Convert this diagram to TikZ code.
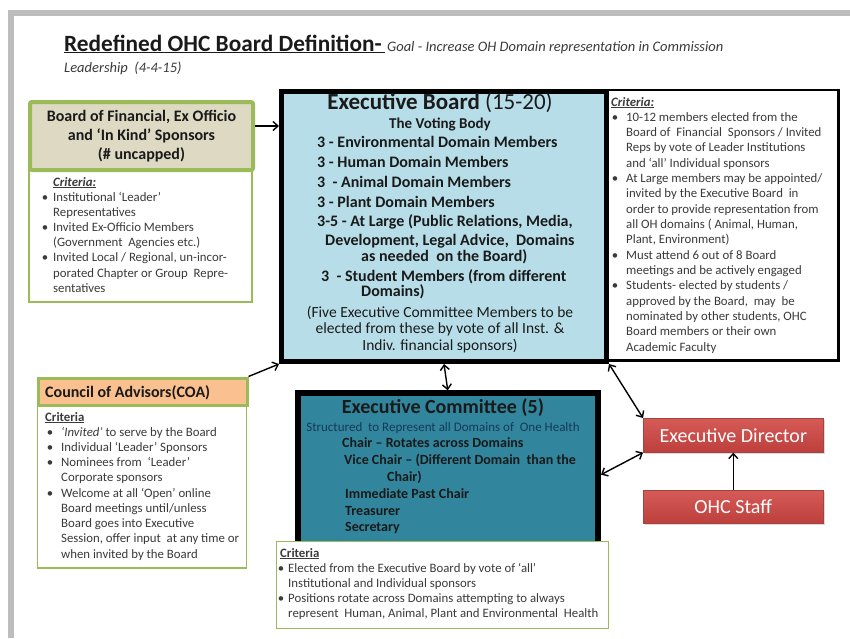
\documentclass[tikz,border=0pt]{standalone}
\usepackage{fontspec}
\setmainfont{Carlito}
\usetikzlibrary{positioning,arrows.meta,shadows}

\definecolor{leafgreen}{HTML}{9BBB59}
\definecolor{tanfill}{HTML}{DDD9C3}
\definecolor{peach}{HTML}{FAC090}
\definecolor{skyfill}{HTML}{B7DEE8}
\definecolor{tealfill}{HTML}{31859C}
\definecolor{redtop}{HTML}{D65B57}
\definecolor{redbot}{HTML}{BC3F3C}
\definecolor{dirred}{HTML}{C0504D}
\definecolor{crittext}{HTML}{3A3A3A}
\definecolor{inkblack}{HTML}{1A1A1A}
\definecolor{navytext}{HTML}{163A55}
\definecolor{framegray}{HTML}{BDBDBD}

\begin{document}
\begin{tikzpicture}[x=1pt,y=-1pt,
    every node/.style={inner sep=0pt},
    crit/.style={anchor=base west,text=crittext,font=\fontsize{12.8}{15}\selectfont},
    bul/.style={anchor=base,text=crittext,font=\fontsize{12.8}{15}\selectfont},
    crithead/.style={anchor=base west,text=crittext,font=\bfseries\fontsize{12.8}{15}\selectfont},
    greenbox/.style={draw=leafgreen,line width=1.5pt,fill=white,anchor=north west},
    ebline/.style={anchor=base west,text=inkblack,font=\bfseries\fontsize{16}{19}\selectfont},
    ebnote/.style={anchor=base,text=inkblack,font=\fontsize{15.5}{18}\selectfont},
    ecline/.style={anchor=base west,text=inkblack,font=\bfseries\fontsize{14}{17}\selectfont},
    redbox/.style={draw=dirred!85!black,line width=0.6pt,top color=redtop,bottom color=redbot,
      text=white,font=\fontsize{20}{24}\selectfont,anchor=north west,
      minimum width=180pt,minimum height=34pt,
      drop shadow={opacity=0.3,shadow xshift=1.5pt,shadow yshift=-2pt}},
    arr/.style={-{Straight Barb[length=5pt,width=9pt]},line width=1.4pt},
    darr/.style={{Straight Barb[length=5pt,width=9pt]}-{Straight Barb[length=5pt,width=9pt]},line width=1.4pt}
  ]
  \path[use as bounding box] (0,0) rectangle (850,638);
  % page frame
  \fill[framegray] (8,10) rectangle (850,16);
  \fill[framegray] (8,10) rectangle (14,638);

  % Title.
  \node[anchor=base west,text=inkblack,font=\bfseries\fontsize{23.3}{27}\selectfont] (title) at (64,51)
    {\underline{Redefined OHC Board Definition-\hspace{3pt}}};
  \node[anchor=base west,text=crittext,font=\itshape\fontsize{14.5}{17}\selectfont] (goal) at (title.base east)
    {\hspace{2pt}Goal - Increase OH Domain representation in Commission};
  \node[anchor=base west,text=crittext,font=\itshape\fontsize{14.5}{17}\selectfont] (lead) at (64,72)
    {Leadership \ (4-4-15)};

  % Sponsors.
  \node[greenbox,minimum width=223pt,minimum height=133pt] (sponscrit) at (28,168) {};
  \node[greenbox,line width=4pt,fill=tanfill,rounded corners=2pt,minimum width=223pt,minimum height=68pt,
    align=center,text=inkblack,font=\bfseries\fontsize{16}{19}\selectfont] (spons) at (28,100)
    {Board of Financial, Ex Officio\\and ‘In Kind’ Sponsors\\(\# uncapped)};
  \node[crithead] (sc0) at (53,186) {\underline{\textit{Criteria:}}};
  \foreach \t [count=\i] in {{Institutional ‘Leader’},{Representatives},{Invited Ex-Officio Members},
      {(Government \ Agencies etc.)},{Invited Local / Regional, un-incor-},
      {porated Chapter or Group \ Repre-},{sentatives}}
    \node[crit] (sc\i) at (53,{201+15.2*(\i-1)}) {\t};
  \foreach \i in {1,3,5}
    \node[bul] (scb\i) at (45,{201+15.2*(\i-1)}) {\textbullet};

  % Council of advisors.
  \node[greenbox,minimum width=209pt,minimum height=163.5pt] (coacrit) at (36.5,403.5) {};
  \node[greenbox,line width=3pt,fill=peach,minimum width=209pt,minimum height=27pt] (coa) at (36.5,376.5) {};
  \node[anchor=base west,text=inkblack,font=\bfseries\fontsize{16}{19}\selectfont] (coatext) at (45,397)
    {Council of Advisors(COA)};
  \node[crithead] (cc0) at (45,421) {\underline{Criteria}};
  \foreach \t [count=\i] in {{\textit{‘Invited’} to serve by the Board},{Individual ‘Leader’ Sponsors},
      {Nominees from \ ‘Leader’},{Corporate sponsors},{Welcome at all ‘Open’ online},
      {Board meetings until/unless},{Board goes into Executive},
      {Session, offer input \ at any time or},{when invited by the Board}}
    \node[crit] (cc\i) at (61,{436+15.25*(\i-1)}) {\t};
  \foreach \i in {1,2,3,5}
    \node[bul] (ccb\i) at (50,{436+15.25*(\i-1)}) {\textbullet};

  % Executive board.
  \node[draw=black,line width=2.5pt,fill=white,anchor=north west,minimum width=233pt,minimum height=270.5pt]
    (ebcrit) at (604,88.5) {};
  \node[draw=black,line width=5pt,fill=skyfill,anchor=north west,minimum width=325pt,minimum height=270.5pt]
    (eb) at (279,88.5) {};
  \node[anchor=base,text=inkblack,font=\fontsize{23}{27}\selectfont] (ebtitle) at (440,109)
    {\textbf{Executive Board} (15-20)};
  \node[anchor=base,text=inkblack,font=\bfseries\fontsize{15}{18}\selectfont] (ebsub) at (440,128)
    {The Voting Body};
  \foreach \x/\y/\t [count=\i] in {317/147/{3 - Environmental Domain Members},
      317/167/{3 - Human Domain Members},317/187/{3 \ - Animal Domain Members},
      317/207/{3 - Plant Domain Members},317/226/{3-5 - At Large (Public Relations, Media,},
      325/245/{Development, Legal Advice, \ Domains},361/261/{as needed \ on the Board)},
      321/281/{3 \ - Student Members (from different},361/296/{Domains)}}
    \node[ebline] (ebl\i) at (\x,\y) {\t};
  \node[ebnote] (ebn1) at (440,317) {(Five Executive Committee Members to be};
  \node[ebnote] (ebn2) at (440,333) {elected from these by vote of all Inst. \&};
  \node[ebnote] (ebn3) at (440,350) {Indiv. financial sponsors)};

  \node[crithead] (ebc0) at (611,106) {\underline{\textit{Criteria:}}};
  \foreach \t [count=\i] in {{10-12 members elected from the},{Board of \ Financial \ Sponsors / Invited},
      {Reps by vote of Leader Institutions},{and ‘all’ Individual sponsors},
      {At Large members may be appointed/},{invited by the Executive Board \ in},
      {order to provide representation from},{all OH domains ( Animal, Human,},
      {Plant, Environment)},{Must attend 6 out of 8 Board},{meetings and be actively engaged},
      {Students- elected by students /},{approved by the Board, \ may \ be},
      {nominated by other students, OHC},{Board members or their own},{Academic Faculty}}
    \node[crit] (ebc\i) at (626,{121+15.35*(\i-1)}) {\t};
  \foreach \i in {1,5,10,12}
    \node[bul] (ebcb\i) at (615,{121+15.35*(\i-1)}) {\textbullet};

  % Executive committee.
  \node[draw=black,line width=6pt,fill=tealfill,anchor=north west,minimum width=300.5pt,minimum height=154.7pt]
    (ec) at (294.5,390.3) {};
  \node[anchor=base,text=inkblack,font=\bfseries\fontsize{20}{24}\selectfont] (ectitle) at (443,413.5)
    {Executive Committee (5)};
  \node[anchor=base,text=navytext,font=\fontsize{13}{16}\selectfont] (ecsub) at (443,431)
    {Structured \ to Represent all Domains of \ One Health};
  \foreach \x/\y/\t [count=\i] in {342/447.5/{Chair – Rotates across Domains},
      344/464.5/{Vice Chair – (Different Domain \ than the},387/481.5/{Chair)},
      345/498.5/{Immediate Past Chair},345/515.5/{Treasurer},345/531.5/{Secretary}}
    \node[ecline] (ecl\i) at (\x,\y) {\t};

  \node[greenbox,minimum width=331.75pt,minimum height=86.75pt] (eccrit) at (275.75,540.75) {};
  \node[crithead] (ecc0) at (280,557) {\underline{Criteria}};
  \foreach \t [count=\i] in {{Elected from the Executive Board by vote of ‘all’},
      {Institutional and Individual sponsors},
      {Positions rotate across Domains attempting to always},
      {represent \ Human, Animal, Plant and Environmental \ Health}}
    \node[crit] (ecc\i) at (288,{572+15.2*(\i-1)}) {\t};
  \foreach \i in {1,3}
    \node[bul] (eccb\i) at (281,{572+15.2*(\i-1)}) {\textbullet};

  % Director and staff.
  \node[redbox] (ed) at (643,418) {Executive Director};
  \node[redbox,minimum height=33pt] (staff) at (643,490) {OHC Staff};

  % Connectors.
  \draw[arr] ([yshift=10pt]spons.east) -- ([yshift=10pt]spons.east -| eb.west);
  \draw[arr] (coa.north east) -- (eb.south west);
  \draw[darr] (eb.south) -- (ec.north);
  \draw[darr] (eb.south east) -- (ed.north west);
  \draw[darr] ([yshift=-4pt]ec.east) -- (ed.south west);
  \draw[arr] (staff.north) -- (ed.south);
\end{tikzpicture}
\end{document}
